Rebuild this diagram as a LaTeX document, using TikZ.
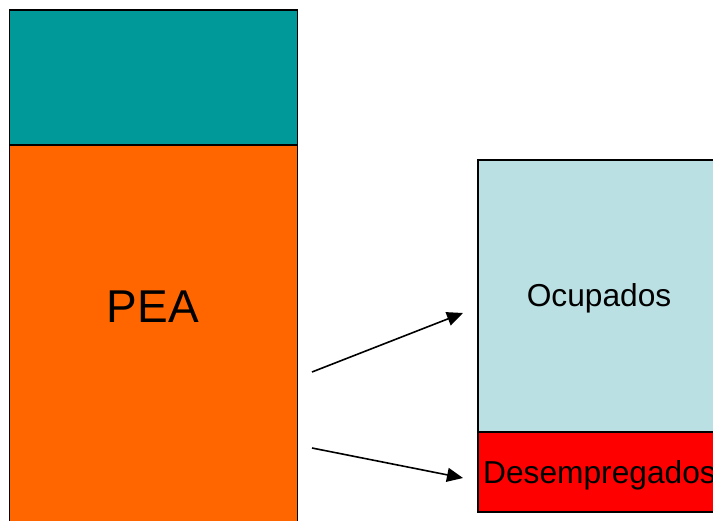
\documentclass[tikz,border=0pt]{standalone}
\usepackage{fontspec}
\setmainfont{Liberation Sans}
\usetikzlibrary{arrows.meta}
\definecolor{tealc}{RGB}{0,153,153}
\definecolor{orangec}{RGB}{255,102,0}
\definecolor{bluec}{RGB}{186,224,227}
\definecolor{redc}{RGB}{255,0,0}
\tikzset{
  block/.style={draw=black, line width=1.6pt, inner sep=0pt, outer sep=0pt, anchor=north west},
  conn/.style={line width=1.6pt, -{Triangle[length=16pt,width=14pt]}},
}
\begin{document}
\begin{tikzpicture}[x=1pt,y=-1pt]
\useasboundingbox (0,0) rectangle (713,521);
\clip (0,0) rectangle (713,521);
\node[block, fill=tealc, minimum width=288pt, minimum height=135pt] (top) at (9.5,10) {};
\node[block, fill=orangec, minimum width=288pt, minimum height=390pt] (pea) at (9.5,145) {};
\node[block, fill=bluec, minimum width=260pt, minimum height=272pt] (ocu) at (478,160) {};
\node[block, fill=redc, minimum width=260pt, minimum height=80pt] (des) at (478,432) {};
\node[anchor=base, inner sep=0pt, font=\fontsize{46}{50}\selectfont] (peat) at (153,323) {PEA};
\node[anchor=base, inner sep=0pt, font=\fontsize{31.7}{36}\selectfont] (ocut) at (599,307) {Ocupados};
\node[anchor=base west, inner sep=0pt, font=\fontsize{31.7}{36}\selectfont] (dest) at (483,484) {Desempregados};
\coordinate (a1s) at (312,372);
\coordinate (a1e) at (463,313);
\coordinate (a2s) at (312,448);
\coordinate (a2e) at (463,478);
\draw[conn] (a1s) -- (a1e);
\draw[conn] (a2s) -- (a2e);
\end{tikzpicture}
\end{document}
